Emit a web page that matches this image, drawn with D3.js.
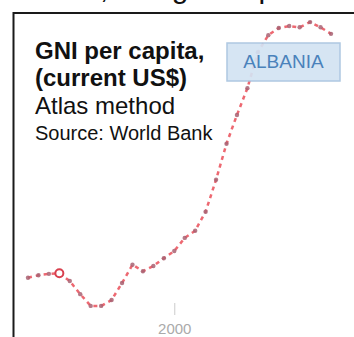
<!DOCTYPE html>
<html><head><meta charset="utf-8">
<script src="https://cdn.jsdelivr.net/npm/d3@7"></script>
<style>html,body{margin:0;padding:0;background:#fff;}svg{display:block;}</style>
</head><body>
<script>
const years = [1986,1987,1988,1989,1990,1991,1992,1993,1994,1995,1996,1997,1998,1999,2000,2001,2002,2003,2004,2005,2006,2007,2008,2009,2010,2011,2012,2013,2014,2015];
const gni = [630,670,690,700,580,380,200,200,290,550,830,730,810,930,1040,1240,1350,1640,2130,2680,3120,3530,4080,4340,4450,4480,4460,4540,4460,4360];
const highlightYear = 1989;
const xTicks = [2000];
const titleText = "Albania, rising GNI per head";
const labelLines = ["GNI per capita,", "(current US$)", "Atlas method", "Source: World Bank"];
const countryLabel = "ALBANIA";

const W = 354, H = 337;
const svg = d3.select("body").append("svg").attr("width", W).attr("height", H);
svg.append("rect").attr("width", W).attr("height", H).attr("fill", "#fff");

const x = d3.scaleLinear().domain([1986, 2015]).range([28, 331]);
const y = d3.scaleLinear().domain([0, 5000]).range([319, -8]);

// cut-off title (only its lowest part shows)
svg.append("text").attr("x", 0).attr("y", -2)
  .attr("font-family", "Liberation Sans, Arial, sans-serif").attr("font-size", 30)
  .attr("fill", "#111").text(titleText);

// frame
svg.append("path").attr("d", `M13.5,${H} V13 H${W}`).attr("fill", "none")
  .attr("stroke", "#1a1a1a").attr("stroke-width", 2);

// x axis
const ax = svg.append("g").attr("transform", "translate(0,303)")
  .call(d3.axisBottom(x).tickValues(xTicks).tickSize(12).tickFormat(d3.format("d")));
ax.select(".domain").remove();
ax.selectAll(".tick line").attr("stroke", "#ccc");
ax.selectAll(".tick text").attr("fill", "#aaa").attr("font-size", 15)
  .attr("font-family", "Liberation Sans, Arial, sans-serif").attr("y", 20);

const pts = years.map((yr, i) => ({yr, v: gni[i]}));
const line = d3.line().x(d => x(d.yr)).y(d => y(d.v));
svg.append("path").datum(pts).attr("d", line).attr("fill", "none")
  .attr("stroke", "#e8424e").attr("stroke-width", 2.5).attr("stroke-dasharray", "4,4")
  .attr("opacity", 0.8);
svg.selectAll("circle.m").data(pts.filter(d => d.yr !== highlightYear)).enter().append("circle")
  .attr("class", "m").attr("cx", d => x(d.yr)).attr("cy", d => y(d.v)).attr("r", 2.2)
  .attr("fill", "#a86272").attr("opacity", 0.85);
const hp = pts.find(d => d.yr === highlightYear);
svg.append("circle").attr("cx", x(hp.yr)).attr("cy", y(hp.v)).attr("r", 4)
  .attr("fill", "#fff").attr("stroke", "#d8404e").attr("stroke-width", 2);

// country label box
svg.append("rect").attr("x", 227).attr("y", 43).attr("width", 113).attr("height", 38)
  .attr("fill", "#d3e3f3").attr("stroke", "#a8c4e0").attr("stroke-width", 1.5).attr("opacity", 0.92);
svg.append("text").attr("x", 283.5).attr("y", 68).attr("text-anchor", "middle")
  .attr("font-family", "Liberation Sans, Arial, sans-serif").attr("font-size", 19)
  .attr("fill", "#4a82bb").text(countryLabel);

// left labels
const lab = [
  {t: labelLines[0], y: 59, s: 24, w: "bold"},
  {t: labelLines[1], y: 86, s: 24, w: "bold"},
  {t: labelLines[2], y: 114, s: 24, w: "normal"},
  {t: labelLines[3], y: 140, s: 20, w: "normal"}
];
svg.selectAll("text.lab").data(lab).enter().append("text").attr("class", "lab")
  .attr("x", 35).attr("y", d => d.y).attr("font-size", d => d.s).attr("font-weight", d => d.w)
  .attr("font-family", "Liberation Sans, Arial, sans-serif").attr("fill", "#111").text(d => d.t);
</script>
</body></html>
